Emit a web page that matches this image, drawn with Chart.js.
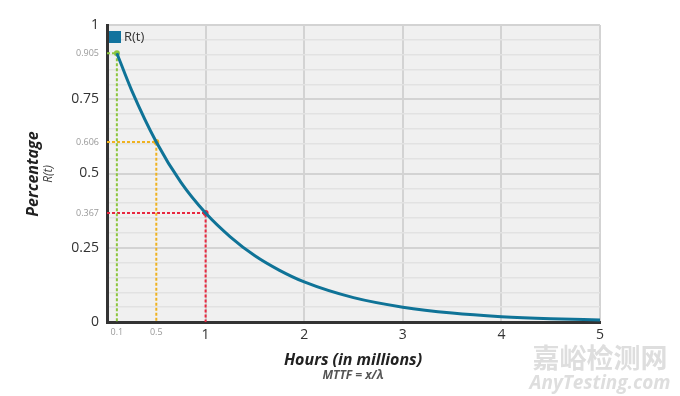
<!DOCTYPE html>
<html>
<head>
<meta charset="utf-8">
<script src="https://cdn.jsdelivr.net/npm/chart.js@4/dist/chart.umd.min.js"></script>
<style>
  html, body { margin: 0; padding: 0; background: #fff; }
</style>
</head>
<body>
<canvas id="relChart" width="680" height="396"></canvas>
<script>
// reliability curve
const hours = [0.1, 0.25, 0.5, 0.75, 1, 1.25, 1.5, 1.75, 2, 2.5, 3, 3.5, 4, 4.5, 5];
const reliability = [0.905, 0.78, 0.606, 0.47, 0.367, 0.287, 0.223, 0.174, 0.135, 0.082, 0.05, 0.03, 0.018, 0.011, 0.007];

// marked points (x, R(t))
const markX = [0.1, 0.5, 1];
const markY = [0.905, 0.606, 0.367];
const markColors = ["#8dc63f", "#f0b21f", "#e8273f"];

// ticks
const xSmallTicks = [0.1, 0.5];
const xMajorTicks = [1, 2, 3, 4, 5];
const yMajorTicks = [0, 0.25, 0.5, 0.75, 1];
const yMinorTicks = [0.05, 0.1, 0.15, 0.2, 0.3, 0.35, 0.4, 0.45, 0.55, 0.6, 0.65, 0.7, 0.8, 0.85, 0.9, 0.95];

const FONT = "'Open Sans', 'DejaVu Sans', sans-serif";

function isSpecial(v, list) {
    return v !== undefined && list.some(m => Math.abs(m - v) < 1e-6);
}
function tickVal(ctx) {
    return ctx && ctx.tick ? ctx.tick.value : undefined;
}

let datasets = [{
    label: "R(t)",
    data: hours.map((h, i) => ({ x: h, y: reliability[i] })),
    borderColor: "#0f7397",
    backgroundColor: "#12739e",
    borderWidth: 3,
    pointRadius: 0,
    cubicInterpolationMode: "monotone",
    order: 0
}];

markX.forEach((mx, i) => {
    datasets.push({
        label: "mark" + i,
        data: [{ x: 0, y: markY[i] }, { x: mx, y: markY[i] }, { x: mx, y: 0 }],
        borderColor: markColors[i],
        backgroundColor: markColors[i],
        borderWidth: 2,
        borderDash: [3, 2],
        pointRadius: (ctx) => ctx.dataIndex === 1 ? 3 : 0,
        pointBorderWidth: 0,
        order: 1
    });
});

// **Plot background, legend and titles**
const decorPlugin = {
    id: "decor",
    beforeDraw(chart) {
        let { ctx, chartArea: a } = chart;
        ctx.save();
        ctx.fillStyle = "#f0f0f0";
        ctx.fillRect(a.left, a.top, a.right - a.left, a.bottom - a.top);
        ctx.restore();
    },
    afterDraw(chart) {
        let { ctx, chartArea: a } = chart;
        ctx.save();

        // legend inside plot
        ctx.fillStyle = datasets[0].backgroundColor;
        ctx.fillRect(a.left + 2, a.top + 6, 12, 12);
        ctx.fillStyle = "#333";
        ctx.font = "13px " + FONT;
        ctx.textAlign = "left";
        ctx.textBaseline = "middle";
        ctx.fillText(datasets[0].label, a.left + 17, a.top + 12);

        // y title
        ctx.save();
        ctx.translate(33, 174);
        ctx.rotate(-Math.PI / 2);
        ctx.textAlign = "center";
        ctx.fillStyle = "#222";
        ctx.font = "italic bold 16px " + FONT;
        ctx.fillText("Percentage", 0, 0);
        ctx.fillStyle = "#444";
        ctx.font = "italic 12px " + FONT;
        ctx.fillText("R(t)", 0, 16);
        ctx.restore();

        // x title
        ctx.textAlign = "center";
        ctx.fillStyle = "#222";
        ctx.font = "italic bold 16px " + FONT;
        ctx.fillText("Hours (in millions)", 353, 360);
        ctx.fillStyle = "#555";
        ctx.font = "italic bold 12px " + FONT;
        ctx.fillText("MTTF = x/λ", 353, 376);

        // watermark
        ctx.fillStyle = "#dedede";
        ctx.font = "bold 27px 'Noto Sans CJK SC', sans-serif";
        ctx.fillText("嘉峪检测网", 600, 358);
        ctx.font = "italic bold 19px " + FONT;
        ctx.fillText("AnyTesting.com", 600, 384);

        ctx.restore();
    }
};

new Chart(document.getElementById("relChart"), {
    type: "line",
    data: { datasets: datasets },
    options: {
        responsive: false,
        animation: false,
        devicePixelRatio: 1,
        layout: { padding: { top: 25, right: 80, left: 0, bottom: 0 } },
        plugins: { legend: { display: false }, tooltip: { enabled: false } },
        scales: {
            x: {
                type: "linear",
                min: 0,
                max: 5,
                afterBuildTicks: (scale) => {
                    scale.ticks = [0].concat(xSmallTicks, xMajorTicks).map(v => ({ value: v }));
                },
                afterFit: (scale) => { scale.height = 74; },
                grid: {
                    drawTicks: false,
                    lineWidth: 2,
                    color: (ctx) => isSpecial(tickVal(ctx), xMajorTicks) ? "#d3d3d3" : "rgba(0,0,0,0)"
                },
                border: { color: "#333", width: 3 },
                ticks: {
                    autoSkip: false,
                    maxRotation: 0,
                    padding: 5,
                    callback: (v) => v === 0 ? "" : String(v),
                    color: (ctx) => isSpecial(tickVal(ctx), xSmallTicks) ? "#999" : "#333",
                    font: (ctx) => isSpecial(tickVal(ctx), xSmallTicks)
                        ? { family: FONT, size: 9 } : { family: FONT, size: 14 }
                }
            },
            y: {
                type: "linear",
                min: 0,
                max: 1,
                afterBuildTicks: (scale) => {
                    let vals = yMajorTicks.concat(yMinorTicks, markY).sort((a, b) => a - b);
                    scale.ticks = vals.map(v => ({ value: v }));
                },
                afterFit: (scale) => { scale.width = 107; },
                grid: {
                    drawTicks: false,
                    lineWidth: (ctx) => isSpecial(tickVal(ctx), yMajorTicks) ? 2 : 1.5,
                    color: (ctx) => {
                        let v = tickVal(ctx);
                        if (v === undefined || isSpecial(v, markY)) return "rgba(0,0,0,0)";
                        if (isSpecial(v, yMajorTicks)) return "#d3d3d3";
                        return "#e2e2e2";
                    }
                },
                border: { color: "#333", width: 3 },
                ticks: {
                    autoSkip: false,
                    padding: 8,
                    callback: (v) => {
                        if (isSpecial(v, markY)) return v.toFixed(3);
                        if (isSpecial(v, yMajorTicks)) return String(v);
                        return "";
                    },
                    color: (ctx) => isSpecial(tickVal(ctx), markY) ? "#999" : "#333",
                    font: (ctx) => isSpecial(tickVal(ctx), markY)
                        ? { family: FONT, size: 9 } : { family: FONT, size: 14 }
                }
            }
        }
    },
    plugins: [decorPlugin]
});
</script>
</body>
</html>
